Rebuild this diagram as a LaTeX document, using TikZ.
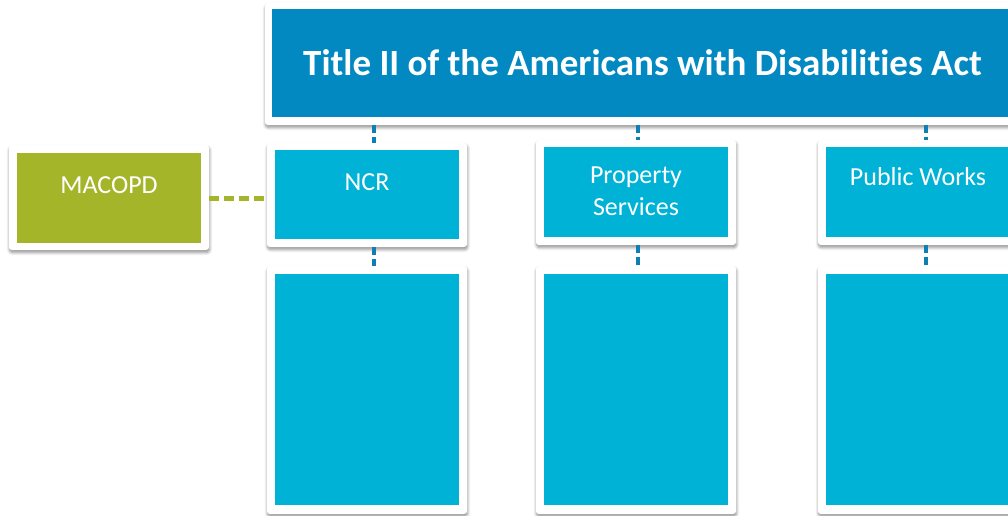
\documentclass[tikz,border=0pt]{standalone}
\usepackage{fontspec}
\setmainfont{Carlito}[RawFeature=-liga]
\usetikzlibrary{shadows.blur}
\definecolor{titleblue}{RGB}{3,137,193}
\definecolor{boxcyan}{RGB}{0,178,214}
\definecolor{linkblue}{RGB}{16,126,182}
\definecolor{olive}{RGB}{165,181,42}
\tikzset{
  frame/.style={rectangle, fill=white, rounded corners=3pt, inner sep=0pt,
    blur shadow={shadow xshift=0.5pt, shadow yshift=-2.5pt, shadow blur radius=3pt,
      shadow blur steps=6, shadow opacity=45}},
  innerbox/.style={rectangle, inner sep=0pt, minimum width=184pt},
  lbl/.style={text=white, font=\fontsize{26}{32}\selectfont, anchor=base, align=center, inner sep=0pt},
  bluelink/.style={draw=linkblue, line width=4pt, dash pattern=on 8pt off 4pt},
  greenlink/.style={draw=olive, line width=5pt, dash pattern=on 10pt off 5pt},
}
\begin{document}
\begin{tikzpicture}[x=1pt,y=-1pt]
\useasboundingbox (0,0) rectangle (1008,516);
\clip (0,0) rectangle (1008,516);
% frames
\node[frame, minimum width=755pt, minimum height=122pt] (titleF) at (642.5,64) {};
\node[rectangle, inner sep=0pt, fill=titleblue, minimum width=741pt, minimum height=108pt] (title) at (642.5,63) {};
\node[text=white, font=\fontsize{37}{44}\selectfont\bfseries, anchor=base, inner sep=0pt] (titleT) at (642.5,76) {Title II of the Americans with Disabilities Act};

\node[frame, minimum width=200pt, minimum height=105pt] (macF) at (109,197.5) {};
\node[innerbox, fill=olive, minimum height=90pt] (mac) at (109,197.5) {};
\node[lbl] (macT) at (109,193.3) {MACOPD};

\node[frame, minimum width=200pt, minimum height=104pt] (ncrF) at (367,195) {};
\node[innerbox, fill=boxcyan, minimum height=89pt] (ncr) at (367,194.5) {};
\node[lbl] (ncrT) at (367,190) {NCR};

\node[frame, minimum width=200pt, minimum height=105pt] (propF) at (636,192.5) {};
\node[innerbox, fill=boxcyan, minimum height=90pt] (prop) at (636,192) {};
\node[lbl] (propT) at (636,215) {Property\\Services};

\node[frame, minimum width=200pt, minimum height=105pt] (pwF) at (918,192.5) {};
\node[innerbox, fill=boxcyan, minimum height=90pt] (pw) at (918,192) {};
\node[lbl] (pwT) at (918,185) {Public Works};

\node[frame, minimum width=200pt, minimum height=248pt] (ncrL) at (367,390) {};
\node[innerbox, fill=boxcyan, minimum height=231pt] (ncrLI) at (367,389.5) {};
\node[frame, minimum width=200pt, minimum height=248pt] (propL) at (636,390) {};
\node[innerbox, fill=boxcyan, minimum height=231pt] (propLI) at (636,389.5) {};
\node[frame, minimum width=200pt, minimum height=248pt] (pwL) at (918,390) {};
\node[innerbox, fill=boxcyan, minimum height=231pt] (pwLI) at (918,389.5) {};

% connectors
\draw[bluelink] ([xshift=7pt]titleF.south -| ncrF.north) -- ([xshift=7pt]ncrF.north);
\draw[bluelink] ([xshift=2pt]titleF.south -| propF.north) -- ([xshift=2pt]propF.north);
\draw[bluelink] ([xshift=8pt]titleF.south -| pwF.north) -- ([xshift=8pt]pwF.north);
\draw[bluelink] ([xshift=7pt]ncrF.south) -- ([xshift=7pt]ncrL.north);
\draw[bluelink] ([xshift=2pt]propF.south) -- ([xshift=2pt]propL.north);
\draw[bluelink] ([xshift=8pt]pwF.south) -- ([xshift=8pt]pwL.north);
\draw[greenlink] (macF.east |- 0,198) -- (ncrF.west |- 0,198);
\end{tikzpicture}
\end{document}
